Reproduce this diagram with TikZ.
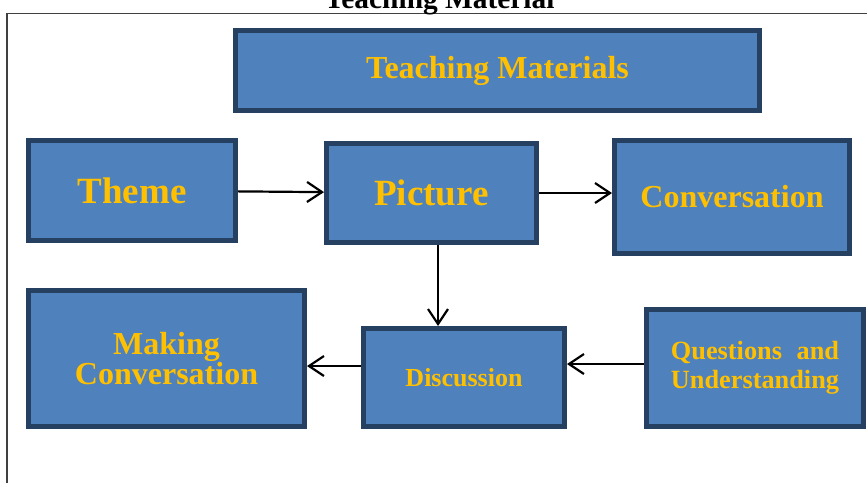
\documentclass[tikz,border=0pt]{standalone}
\usepackage{fontspec}
\setmainfont{Liberation Serif}
\usepackage{calc}
\usetikzlibrary{arrows.meta}

\definecolor{boxfill}{HTML}{4F81BD}
\definecolor{boxline}{HTML}{254061}
\definecolor{gold}{HTML}{FFC000}

\begin{document}
\begin{tikzpicture}[x=1pt, y=-1pt,
  box/.style={draw=boxline, line width=5pt, fill=boxfill, text=gold, inner sep=0pt, align=center},
  link/.style={line width=2.2pt, -{Straight Barb[length=15pt,width=20pt]}}]

\useasboundingbox (0,0) rectangle (867,483);

% frame
\draw[line width=1.5pt, black!75] (7,483) -- (7,13.5) -- (867,13.5);
\node[anchor=base, font=\bfseries\fontsize{29.4}{30}\selectfont] (title) at (439.5,8) {Teaching Material};

% boxes
\node[box, minimum width=524pt, minimum height=80pt, font=\bfseries\fontsize{32}{32}\selectfont] (tm) at (497.5,70.5) {Teaching Materials};
\node[box, minimum width=207pt, minimum height=100pt, font=\bfseries\fontsize{37}{37}\selectfont] (theme) at (132,190.5) {Theme};
\node[box, minimum width=210pt, minimum height=99pt, font=\bfseries\fontsize{37}{37}\selectfont] (picture) at (431.5,193) {Picture};
\node[box, minimum width=235pt, minimum height=113pt, font=\bfseries\fontsize{32}{32}\selectfont] (conv) at (732,197) {Conversation};
\node[box, minimum width=276pt, minimum height=136pt, font=\bfseries\fontsize{32}{30}\selectfont] (making) at (166.5,358.5) {Making\\Conversation};
\node[box, minimum width=201pt, minimum height=98pt, font=\bfseries\fontsize{26}{26}\selectfont] (disc) at (464,377.5) {Discussion};
\node[box, minimum width=217pt, minimum height=117pt, align=left, font=\bfseries\fontsize{26.3}{29}\selectfont] (quest) at (755,368) {\makebox[\widthof{Understanding}][s]{Questions\hfill and}\\Understanding};

% arrows
\coordinate (p) at ([xshift=6.5pt]picture.south);
\coordinate (q) at ([yshift=4pt]quest.west);
\coordinate (d) at ([yshift=11.5pt]disc.west);
\draw[link] (theme) -- (picture);
\draw[link] (picture.east) -- (picture.east -| conv.west);
\draw[link] (p) -- (p |- disc.north);
\draw[link] (q) -- (q -| disc.east);
\draw[link] (d) -- (d -| making.east);

\end{tikzpicture}
\end{document}
